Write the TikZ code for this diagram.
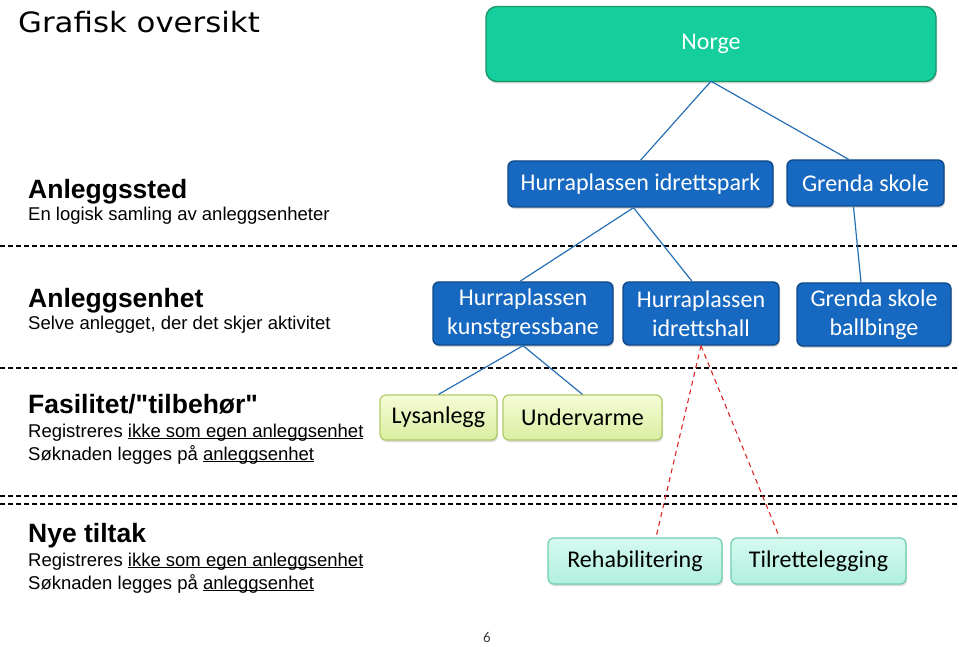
\documentclass[tikz,border=0pt]{standalone}
\usepackage{fontspec}
\setmainfont{Liberation Sans}
\newfontfamily\arialplain{Liberation Sans}
\newfontfamily\calib{Carlito}
\newfontfamily\titlefont[FakeStretch=1.1]{DejaVu Sans}
\usetikzlibrary{calc,shadows}
\definecolor{boxblue}{RGB}{22,104,192}
\definecolor{boxblueline}{RGB}{16,74,138}
\definecolor{norgegreen}{RGB}{20,207,155}
\definecolor{norgeline}{RGB}{28,150,108}
\definecolor{conncol}{RGB}{40,112,182}
\definecolor{reddash}{RGB}{222,40,40}
\definecolor{limetop}{RGB}{246,252,214}
\definecolor{limebot}{RGB}{218,238,160}
\definecolor{limeline}{RGB}{176,204,104}
\definecolor{aquatop}{RGB}{214,250,240}
\definecolor{aquabot}{RGB}{176,240,222}
\definecolor{aqualine}{RGB}{110,206,178}
\newcommand\myul[1]{\setbox0\hbox{#1}\rlap{\rule[-2.4pt]{\wd0}{1.1pt}}\box0}
\tikzset{
  boxbase/.style={rounded corners=6pt, align=center, inner sep=0pt,
    font=\calib\fontsize{24}{29}\selectfont,
    drop shadow={shadow xshift=1pt, shadow yshift=-2pt, opacity=0.25, fill=black!60}},
  bluebox/.style={boxbase, fill=boxblue, draw=boxblueline, line width=1.4pt, text=white},
  greenbox/.style={boxbase, rounded corners=11pt, fill=norgegreen, draw=norgeline, line width=1.4pt, text=white},
  limebox/.style={boxbase, top color=limetop, bottom color=limebot, draw=limeline, line width=1.2pt, text=black},
  aquabox/.style={boxbase, top color=aquatop, bottom color=aquabot, draw=aqualine, line width=1.2pt, text=black},
  conn/.style={draw=conncol, line width=1.2pt},
  reddashed/.style={draw=reddash, line width=1.1pt, dash pattern=on 5pt off 4pt},
  sep/.style={draw=black, line width=1.8pt, dash pattern=on 5pt off 3pt},
  headtxt/.style={anchor=base west, inner sep=0pt, font=\arialplain\fontsize{26.5}{30}\selectfont\bfseries},
  subtxt/.style={anchor=base west, inner sep=0pt, font=\fontsize{18.5}{22}\selectfont},
}
\begin{document}
\begin{tikzpicture}[x=1pt,y=-1pt]
\useasboundingbox (0,0) rectangle (959,647);
% separators
\coordinate (s1a) at (0,246); \coordinate (s1b) at (959,246);
\coordinate (s2a) at (0,368); \coordinate (s2b) at (959,368);
\coordinate (s3a) at (0,496); \coordinate (s3b) at (959,496);
\coordinate (s4a) at (0,504); \coordinate (s4b) at (959,504);
\draw[sep] (s1a) -- (s1b);
\draw[sep] (s2a) -- (s2b);
\draw[sep] (s3a) -- (s3b);
\draw[sep] (s4a) -- (s4b);
% title and left texts
\node[anchor=base west, inner sep=0pt, font=\titlefont\fontsize{28}{32}\selectfont] (title) at (18,33) {Grafisk oversikt};
\node[headtxt] (h1) at (28,199) {Anleggssted};
\node[subtxt] (d1) at (28,221) {En logisk samling av anleggsenheter};
\node[headtxt] (h2) at (28,307) {Anleggsenhet};
\node[subtxt] (d2) at (28,330) {Selve anlegget, der det skjer aktivitet};
\node[headtxt] (h3) at (28,413) {Fasilitet/"tilbehør"};
\node[subtxt] (d3) at (28,437) {Registreres \myul{ikke som egen anleggsenhet}};
\node[subtxt] (d4) at (28,460) {Søknaden legges på \myul{anleggsenhet}};
\node[headtxt] (h4) at (28,542) {Nye tiltak};
\node[subtxt] (d5) at (28,566) {Registreres \myul{ikke som egen anleggsenhet}};
\node[subtxt] (d6) at (28,589) {Søknaden legges på \myul{anleggsenhet}};
% boxes
\node[greenbox, minimum width=450pt, minimum height=75pt] (norge) at (711,44) {Norge};
\node[bluebox, minimum width=265pt, minimum height=46pt] (park) at (640.5,184) {Hurraplassen idrettspark};
\node[bluebox, minimum width=157pt, minimum height=46pt] (grenda) at (865.5,183) {Grenda skole};
\node[bluebox, minimum width=180pt, minimum height=63pt] (kunst) at (523,313.5) {Hurraplassen\\kunstgressbane};
\node[bluebox, minimum width=156pt, minimum height=63pt] (hall) at (701,313.5) {Hurraplassen\\idrettshall};
\node[bluebox, minimum width=154pt, minimum height=63pt] (ball) at (874,314.5) {Grenda skole\\ballbinge};
\node[limebox, minimum width=117pt, minimum height=45pt] (lys) at (438.5,417.5) {Lysanlegg};
\node[limebox, minimum width=159pt, minimum height=45pt] (under) at (582.5,417.5) {Undervarme};
\node[aquabox, minimum width=174pt, minimum height=46pt] (rehab) at (635,561) {Rehabilitering};
\node[aquabox, minimum width=175pt, minimum height=46pt] (tilr) at (818.5,561) {Tilrettelegging};
% connectors
\draw[conn] ($(norge.south)+(0,-1)$) -- (park.north);
\draw[conn] ($(norge.south)+(0,-1)$) -- ($(grenda.north)+(-17,0)$);
\draw[conn] ($(park.south)+(-7,0)$) -- ($(kunst.north)+(-3,0)$);
\draw[conn] ($(park.south)+(-7,0)$) -- ($(hall.north)+(-9,0)$);
\draw[conn] ($(grenda.south)+(-12,0)$) -- ($(ball.north)+(-13,0)$);
\draw[conn] (kunst.south) -- (lys.north);
\draw[conn] (kunst.south) -- (under.north);
\draw[reddashed] (hall.south) -- ($(rehab.north)+(21,0)$);
\draw[reddashed] (hall.south) -- ($(tilr.north)+(-39,0)$);
% page number
\node[anchor=base, inner sep=0pt, font=\calib\fontsize{15}{17}\selectfont, text=black!75] (pagenum) at (487,642) {6};
\end{tikzpicture}
\end{document}
